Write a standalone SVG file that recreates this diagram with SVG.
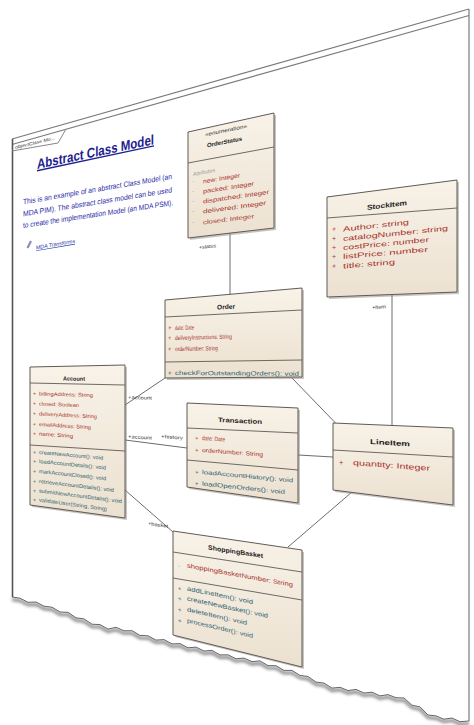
<svg xmlns="http://www.w3.org/2000/svg" width="474" height="725" viewBox="0 0 474 725">
  <defs>
    <linearGradient id="nodeFill" x1="0" y1="0" x2="0" y2="1">
      <stop offset="0" stop-color="#f8f2e8"/>
      <stop offset="1" stop-color="#ece1d0"/>
    </linearGradient>
    <filter id="soft" x="-5%" y="-20%" width="110%" height="140%">
      <feGaussianBlur stdDeviation="1.4"/>
    </filter>
    <style>
      text{font-family:"Liberation Sans",Arial,sans-serif;}
      .nm{font-weight:bold;fill:#222;}
      .at{fill:#a8322d;}
      .op{fill:#2f6272;}
      .lb{fill:#333;}
      .gr{fill:#9a9a9a;}
      .box{fill:url(#nodeFill);stroke:#5f5a55;stroke-width:1;}
      .sh{fill:#8f8984;opacity:0.5;}
      .dv{stroke:#5f5a55;stroke-width:0.9;fill:none;}
      .cn{stroke:#6c6c6c;stroke-width:1;fill:none;}
      .edge{stroke:#7a7a7a;stroke-width:1.2;fill:none;}
    </style>
  </defs>

  <rect width="474" height="725" fill="#fff"/>

  <!-- sheet with torn lower edge -->
  <g id="sheet">
    <polyline filter="url(#soft)" transform="translate(0,2.5)" fill="none" stroke="#8a8a8a" stroke-width="3"
      points="12,597 20,598.2 28,602.3 36,602 44,606.2 52,607.2 60,612 68,612.3 76,617.8 84,618.9 92,624.2 100,624.6 108,629.1 116,627.3 124,630.8 132,630.7 140,635.4 148,635.8 156,640.1 164,639.6 172,643.9 180,643.6 188,647.8 196,647.1 204,651 212,650.4 220,654.9 228,654.8 236,658.8 244,658.1 252,661.6 260,660.9 268,665.6 276,665.7 284,670.4 292,670.4 300,675.4 308,676.5 316,682.1 324,683.1 332,688.1 340,687.3 348,690.6 356,689.4 364,693 372,692.2 380,695.9 388,694.6 396,697.7 404,698 412,705.2 420,706.9 428,715 436,715.9 444,719.2 452,718 460,721.7 469,721"/>
    <polygon fill="#fff"
      points="12,139 469,9 469,721 460,721.7 452,718 444,719.2 436,715.9 428,715 420,706.9 412,705.2 404,698 396,697.7 388,694.6 380,695.9 372,692.2 364,693 356,689.4 348,690.6 340,687.3 332,688.1 324,683.1 316,682.1 308,676.5 300,675.4 292,670.4 284,670.4 276,665.7 268,665.6 260,660.9 252,661.6 244,658.1 236,658.8 228,654.8 220,654.9 212,650.4 204,651 196,647.1 188,647.8 180,643.6 172,643.9 164,639.6 156,640.1 148,635.8 140,635.4 132,630.7 124,630.8 116,627.3 108,629.1 100,624.6 92,624.2 84,618.9 76,617.8 68,612.3 60,612 52,607.2 44,606.2 36,602 28,602.3 20,598.2 12,597"/>
    <polyline fill="none" stroke="#666" stroke-width="1"
      points="12,597 20,598.2 28,602.3 36,602 44,606.2 52,607.2 60,612 68,612.3 76,617.8 84,618.9 92,624.2 100,624.6 108,629.1 116,627.3 124,630.8 132,630.7 140,635.4 148,635.8 156,640.1 164,639.6 172,643.9 180,643.6 188,647.8 196,647.1 204,651 212,650.4 220,654.9 228,654.8 236,658.8 244,658.1 252,661.6 260,660.9 268,665.6 276,665.7 284,670.4 292,670.4 300,675.4 308,676.5 316,682.1 324,683.1 332,688.1 340,687.3 348,690.6 356,689.4 364,693 372,692.2 380,695.9 388,694.6 396,697.7 404,698 412,705.2 420,706.9 428,715 436,715.9 444,719.2 452,718 460,721.7 469,721"/>
    <line class="edge" x1="12" y1="139" x2="469" y2="9"/>
    <line class="edge" x1="12" y1="144.5" x2="469" y2="15.5" stroke="#8a8a8a"/>
    <line class="edge" x1="469" y1="9" x2="469" y2="721"/>
    <line x1="12.5" y1="139" x2="12.5" y2="597" stroke="#555" stroke-width="1.6"/>
  </g>

  <!-- diagram frame tab -->
  <g id="frame-tab">
    <polyline points="12,151 58,143 66,129" fill="none" stroke="#888" stroke-width="1"/>
    <text class="lb" font-size="4.6" transform="matrix(1,-0.24,0,1,15,149)" textLength="40" lengthAdjust="spacingAndGlyphs">objectClass Mo...</text>
  </g>

  <!-- note block -->
  <g id="title-note">
    <text font-size="14" font-weight="bold" fill="#1e1e8e" text-decoration="underline" transform="matrix(1,-0.212,0,1,37,169)" textLength="117" lengthAdjust="spacingAndGlyphs">Abstract Class Model</text>
    <text font-size="7.6" fill="#2b2ba8" transform="matrix(1,-0.172,0,1,23,204.5)" textLength="149" lengthAdjust="spacingAndGlyphs">This is an example of an abstract Class Model (an</text>
    <text font-size="7.6" fill="#2b2ba8" transform="matrix(1,-0.162,0,1,23,216.5)" textLength="149" lengthAdjust="spacingAndGlyphs">MDA PIM).  The abstract class model can be used</text>
    <text font-size="7.6" fill="#2b2ba8" transform="matrix(1,-0.152,0,1,23,228)" textLength="150" lengthAdjust="spacingAndGlyphs">to create the implementation Model (an MDA PSM).</text>
    <path d="M26.5,247.5 L30,240.5 L32,241.5 L28.5,248.5 Z" fill="#8a90b4"/>
    <text font-size="5.4" fill="#2233aa" text-decoration="underline" transform="matrix(1,-0.17,0,1,36,249.5)" textLength="39" lengthAdjust="spacingAndGlyphs">MDA Transforms</text>
  </g>

  <!-- associations -->
  <g id="connectors">
    <line class="cn" x1="230" y1="233" x2="230" y2="294.5"/>
    <line class="cn" x1="392" y1="295" x2="392" y2="426"/>
    <line class="cn" x1="165" y1="378" x2="125" y2="405"/>
    <line class="cn" x1="292" y1="378" x2="336" y2="423.5"/>
    <line class="cn" x1="125" y1="440" x2="187" y2="448"/>
    <line class="cn" x1="298" y1="455" x2="333" y2="457"/>
    <line class="cn" x1="125" y1="490" x2="173" y2="532"/>
    <line class="cn" x1="352" y1="492" x2="288" y2="547"/>
    <text class="lb" font-size="5" transform="matrix(1,-0.107,0,1,199,249)" textLength="17" lengthAdjust="spacingAndGlyphs">+status</text>
    <text class="lb" font-size="5" transform="matrix(1,-0.045,0,1,372,309)" textLength="14" lengthAdjust="spacingAndGlyphs">+item</text>
    <text class="lb" font-size="5" transform="matrix(1,0.03,0,1,128,399)" textLength="24" lengthAdjust="spacingAndGlyphs">+account</text>
    <text class="lb" font-size="5" transform="matrix(1,0.07,0,1,128,438)" textLength="24" lengthAdjust="spacingAndGlyphs">+account</text>
    <text class="lb" font-size="5" transform="matrix(1,0.067,0,1,161,438)" textLength="22" lengthAdjust="spacingAndGlyphs">+history</text>
    <text class="lb" font-size="5" transform="matrix(1,0.149,0,1,148,525)" textLength="20" lengthAdjust="spacingAndGlyphs">+basket</text>
  </g>

  <g id="OrderStatus">
    <polygon class="sh" points="190,134 276,115 276,230 190,240"/>
    <polygon class="box" points="188,132 274,113 274,228 188,238"/>
    <line class="dv" x1="188" y1="163" x2="274" y2="147"/>
    <text class="lb" font-size="5.5" transform="matrix(1,-0.21,0,1,205,136.5)" textLength="42" lengthAdjust="spacingAndGlyphs">«enumeration»</text>
    <text class="nm" font-size="6" transform="matrix(1,-0.2,0,1,207,147.5)" textLength="35" lengthAdjust="spacingAndGlyphs">OrderStatus</text>
    <text class="gr" font-size="5.5" transform="matrix(1,-0.176,0,1,193,176)" textLength="22" lengthAdjust="spacingAndGlyphs">Attributes</text>
    <text class="gr" font-size="6" transform="matrix(1,-0.16,0,1,192,183.5)">-</text>
    <text class="at" font-size="6.2" transform="matrix(1,-0.166,0,1,203,183.5)" textLength="37" lengthAdjust="spacingAndGlyphs">new: Integer</text>
    <text class="gr" font-size="6" transform="matrix(1,-0.15,0,1,192,193.5)">-</text>
    <text class="at" font-size="6.2" transform="matrix(1,-0.153,0,1,203,193.5)" textLength="51" lengthAdjust="spacingAndGlyphs">packed: Integer</text>
    <text class="gr" font-size="6" transform="matrix(1,-0.14,0,1,192,203.5)">-</text>
    <text class="at" font-size="6.2" transform="matrix(1,-0.144,0,1,203,203.5)" textLength="66" lengthAdjust="spacingAndGlyphs">dispatched: Integer</text>
    <text class="gr" font-size="6" transform="matrix(1,-0.13,0,1,192,213.5)">-</text>
    <text class="at" font-size="6.2" transform="matrix(1,-0.135,0,1,203,213.5)" textLength="63" lengthAdjust="spacingAndGlyphs">delivered: Integer</text>
    <text class="gr" font-size="6" transform="matrix(1,-0.12,0,1,192,224.5)">-</text>
    <text class="at" font-size="6.2" transform="matrix(1,-0.125,0,1,203,224.5)" textLength="51" lengthAdjust="spacingAndGlyphs">closed: Integer</text>
  </g>

  <g id="StockItem">
    <polygon class="sh" points="329,199 459,182 459,294 329,299"/>
    <polygon class="box" points="327,197 457,180 457,292 327,297"/>
    <line class="dv" x1="327" y1="218" x2="457" y2="208"/>
    <text class="nm" font-size="7" transform="matrix(1,-0.124,0,1,367,210)" textLength="40" lengthAdjust="spacingAndGlyphs">StockItem</text>
    <text class="at" font-size="7" transform="matrix(1,-0.108,0,1,332,231.5)">+</text>
    <text class="at" font-size="7" transform="matrix(1,-0.108,0,1,343,231.5)" textLength="66" lengthAdjust="spacingAndGlyphs">Author: string</text>
    <text class="at" font-size="7" transform="matrix(1,-0.1,0,1,332,241)">+</text>
    <text class="at" font-size="7" transform="matrix(1,-0.1,0,1,343,241)" textLength="105" lengthAdjust="spacingAndGlyphs">catalogNumber: string</text>
    <text class="at" font-size="7" transform="matrix(1,-0.094,0,1,332,250)">+</text>
    <text class="at" font-size="7" transform="matrix(1,-0.094,0,1,343,250)" textLength="86" lengthAdjust="spacingAndGlyphs">costPrice: number</text>
    <text class="at" font-size="7" transform="matrix(1,-0.087,0,1,332,259)">+</text>
    <text class="at" font-size="7" transform="matrix(1,-0.087,0,1,343,259)" textLength="85" lengthAdjust="spacingAndGlyphs">listPrice: number</text>
    <text class="at" font-size="7" transform="matrix(1,-0.08,0,1,332,268.5)">+</text>
    <text class="at" font-size="7" transform="matrix(1,-0.08,0,1,343,268.5)" textLength="52" lengthAdjust="spacingAndGlyphs">title: string</text>
  </g>

  <g id="Order">
    <polygon class="sh" points="167,302 304,290 304,379 167,380"/>
    <polygon class="box" points="165,300 302,288 302,377 165,378"/>
    <line class="dv" x1="165" y1="317" x2="302" y2="310"/>
    <line class="dv" x1="165" y1="362" x2="302" y2="360"/>
    <text class="nm" font-size="6.5" transform="matrix(1,-0.052,0,1,217,309.5)" textLength="18" lengthAdjust="spacingAndGlyphs">Order</text>
    <text class="at" font-size="6.2" transform="matrix(1,-0.035,0,1,168,330)">+</text>
    <text class="at" font-size="6.2" transform="matrix(1,-0.035,0,1,175,330)" textLength="19" lengthAdjust="spacingAndGlyphs">date: Date</text>
    <text class="at" font-size="6.2" transform="matrix(1,-0.025,0,1,168,340)">+</text>
    <text class="at" font-size="6.2" transform="matrix(1,-0.025,0,1,175,340)" textLength="57" lengthAdjust="spacingAndGlyphs">deliveryInstructions: String</text>
    <text class="at" font-size="6.2" transform="matrix(1,-0.016,0,1,168,351)">+</text>
    <text class="at" font-size="6.2" transform="matrix(1,-0.016,0,1,175,351)" textLength="43" lengthAdjust="spacingAndGlyphs">orderNumber: String</text>
    <text class="op" font-size="6.2" transform="matrix(1,0.006,0,1,168,375)">+</text>
    <text class="op" font-size="6.2" transform="matrix(1,0.006,0,1,175,375)" textLength="124" lengthAdjust="spacingAndGlyphs">checkForOutstandingOrders(): void</text>
  </g>

  <g id="Account">
    <polygon class="sh" points="32,369 127,367 127,520 32,507"/>
    <polygon class="box" points="30,367 125,365 125,518 30,505"/>
    <line class="dv" x1="30" y1="383" x2="125" y2="385"/>
    <line class="dv" x1="30" y1="445" x2="125" y2="451"/>
    <text class="nm" font-size="5.8" transform="matrix(1,0.016,0,1,63,380.5)" textLength="22" lengthAdjust="spacingAndGlyphs">Account</text>
    <text class="at" font-size="5.3" transform="matrix(1,0.028,0,1,33,395.5)">+</text>
    <text class="at" font-size="5.3" transform="matrix(1,0.028,0,1,39,395.5)" textLength="54" lengthAdjust="spacingAndGlyphs">billingAddress: String</text>
    <text class="at" font-size="5.3" transform="matrix(1,0.039,0,1,33,405.5)">+</text>
    <text class="at" font-size="5.3" transform="matrix(1,0.039,0,1,39,405.5)" textLength="40" lengthAdjust="spacingAndGlyphs">closed: Boolean</text>
    <text class="at" font-size="5.3" transform="matrix(1,0.05,0,1,33,415.5)">+</text>
    <text class="at" font-size="5.3" transform="matrix(1,0.05,0,1,39,415.5)" textLength="58" lengthAdjust="spacingAndGlyphs">deliveryAddress: String</text>
    <text class="at" font-size="5.3" transform="matrix(1,0.06,0,1,33,426)">+</text>
    <text class="at" font-size="5.3" transform="matrix(1,0.06,0,1,39,426)" textLength="52" lengthAdjust="spacingAndGlyphs">emailAddress: String</text>
    <text class="at" font-size="5.3" transform="matrix(1,0.07,0,1,33,435.5)">+</text>
    <text class="at" font-size="5.3" transform="matrix(1,0.07,0,1,39,435.5)" textLength="34" lengthAdjust="spacingAndGlyphs">name: String</text>
    <text class="op" font-size="5.3" transform="matrix(1,0.089,0,1,33,454)">+</text>
    <text class="op" font-size="5.3" transform="matrix(1,0.089,0,1,39,454)" textLength="64" lengthAdjust="spacingAndGlyphs">createNewAccount(): void</text>
    <text class="op" font-size="5.3" transform="matrix(1,0.099,0,1,33,463)">+</text>
    <text class="op" font-size="5.3" transform="matrix(1,0.099,0,1,39,463)" textLength="67" lengthAdjust="spacingAndGlyphs">loadAccountDetails(): void</text>
    <text class="op" font-size="5.3" transform="matrix(1,0.109,0,1,33,473)">+</text>
    <text class="op" font-size="5.3" transform="matrix(1,0.109,0,1,39,473)" textLength="67" lengthAdjust="spacingAndGlyphs">markAccountClosed(): void</text>
    <text class="op" font-size="5.3" transform="matrix(1,0.119,0,1,33,483)">+</text>
    <text class="op" font-size="5.3" transform="matrix(1,0.119,0,1,39,483)" textLength="75" lengthAdjust="spacingAndGlyphs">retrieveAccountDetails(): void</text>
    <text class="op" font-size="5.3" transform="matrix(1,0.128,0,1,33,492.5)">+</text>
    <text class="op" font-size="5.3" transform="matrix(1,0.128,0,1,39,492.5)" textLength="83" lengthAdjust="spacingAndGlyphs">submitNewAccountDetails(): void</text>
    <text class="op" font-size="5.3" transform="matrix(1,0.139,0,1,33,501.5)">+</text>
    <text class="op" font-size="5.3" transform="matrix(1,0.139,0,1,39,501.5)" textLength="68" lengthAdjust="spacingAndGlyphs">validateUser(String, String)</text>
  </g>

  <g id="Transaction">
    <polygon class="sh" points="189,405 300,410 300,505 189,489"/>
    <polygon class="box" points="187,403 298,408 298,503 187,487"/>
    <line class="dv" x1="187" y1="428" x2="298" y2="433"/>
    <line class="dv" x1="187" y1="460" x2="298" y2="470"/>
    <text class="nm" font-size="6.5" transform="matrix(1,0.047,0,1,218,422)" textLength="44" lengthAdjust="spacingAndGlyphs">Transaction</text>
    <text class="at" font-size="6" transform="matrix(1,0.065,0,1,195,440)">+</text>
    <text class="at" font-size="6" transform="matrix(1,0.065,0,1,202,440)" textLength="23" lengthAdjust="spacingAndGlyphs">date: Date</text>
    <text class="at" font-size="6" transform="matrix(1,0.074,0,1,195,452)">+</text>
    <text class="at" font-size="6" transform="matrix(1,0.074,0,1,202,452)" textLength="61" lengthAdjust="spacingAndGlyphs">orderNumber: String</text>
    <text class="op" font-size="6" transform="matrix(1,0.092,0,1,195,474)">+</text>
    <text class="op" font-size="6" transform="matrix(1,0.092,0,1,202,474)" textLength="91" lengthAdjust="spacingAndGlyphs">loadAccountHistory(): void</text>
    <text class="op" font-size="6" transform="matrix(1,0.103,0,1,195,485.5)">+</text>
    <text class="op" font-size="6" transform="matrix(1,0.103,0,1,202,485.5)" textLength="83" lengthAdjust="spacingAndGlyphs">loadOpenOrders(): void</text>
  </g>

  <g id="LineItem">
    <polygon class="sh" points="335,425 455,430 455,507 335,492"/>
    <polygon class="box" points="333,423 453,428 453,505 333,490"/>
    <line class="dv" x1="333" y1="450" x2="453" y2="457"/>
    <text class="nm" font-size="7" transform="matrix(1,0.059,0,1,370,444)" textLength="40" lengthAdjust="spacingAndGlyphs">LineItem</text>
    <text class="at" font-size="7.5" transform="matrix(1,0.075,0,1,339,465)">+</text>
    <text class="at" font-size="7.5" transform="matrix(1,0.075,0,1,353,465)" textLength="77" lengthAdjust="spacingAndGlyphs">quantity: Integer</text>
  </g>

  <g id="ShoppingBasket">
    <polygon class="sh" points="175,533 304,552 304,669 175,637"/>
    <polygon class="box" points="173,531 302,550 302,667 173,635"/>
    <line class="dv" x1="173" y1="552" x2="302" y2="572"/>
    <line class="dv" x1="173" y1="578" x2="302" y2="600"/>
    <text class="nm" font-size="6.5" transform="matrix(1,0.155,0,1,208,549.5)" textLength="55" lengthAdjust="spacingAndGlyphs">ShoppingBasket</text>
    <text class="gr" font-size="6.2" transform="matrix(1,0.183,0,1,178,567.5)">-</text>
    <text class="at" font-size="6.2" transform="matrix(1,0.183,0,1,187,567.5)" textLength="106" lengthAdjust="spacingAndGlyphs">shoppingBasketNumber: String</text>
    <text class="op" font-size="6.2" transform="matrix(1,0.205,0,1,178,590.5)">+</text>
    <text class="op" font-size="6.2" transform="matrix(1,0.205,0,1,187,590.5)" textLength="66" lengthAdjust="spacingAndGlyphs">addLineItem(): void</text>
    <text class="op" font-size="6.2" transform="matrix(1,0.216,0,1,178,600.5)">+</text>
    <text class="op" font-size="6.2" transform="matrix(1,0.216,0,1,187,600.5)" textLength="81" lengthAdjust="spacingAndGlyphs">createNewBasket(): void</text>
    <text class="op" font-size="6.2" transform="matrix(1,0.225,0,1,178,611.5)">+</text>
    <text class="op" font-size="6.2" transform="matrix(1,0.225,0,1,187,611.5)" textLength="60" lengthAdjust="spacingAndGlyphs">deleteItem(): void</text>
    <text class="op" font-size="6.2" transform="matrix(1,0.235,0,1,178,622.5)">+</text>
    <text class="op" font-size="6.2" transform="matrix(1,0.235,0,1,187,622.5)" textLength="66" lengthAdjust="spacingAndGlyphs">processOrder(): void</text>
  </g>
</svg>
